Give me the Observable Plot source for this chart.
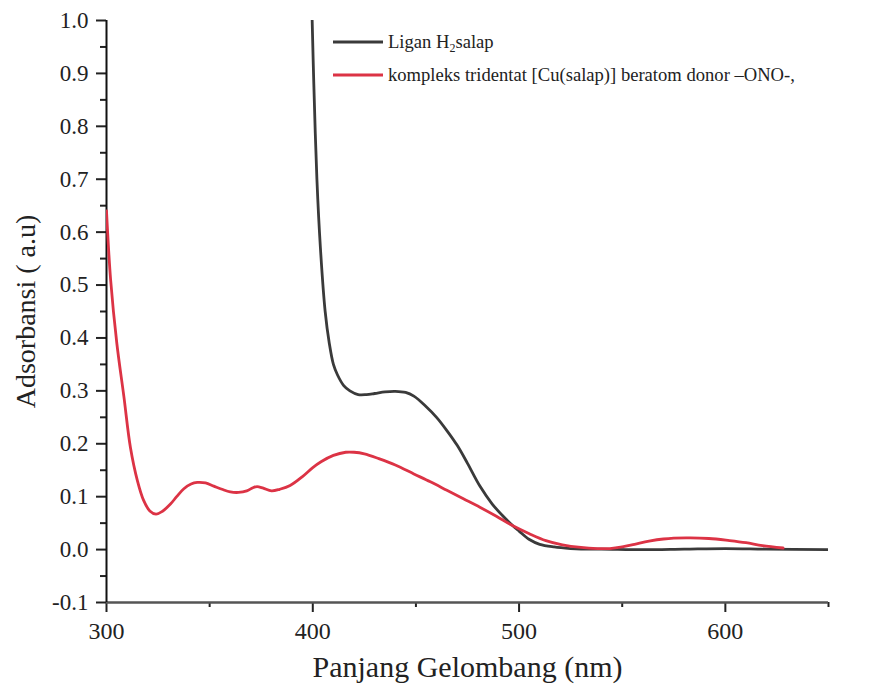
<!DOCTYPE html>
<html>
<head>
<meta charset="utf-8">
<script src="https://cdn.jsdelivr.net/npm/d3@7"></script>
<script src="https://cdn.jsdelivr.net/npm/@observablehq/plot@0.6"></script>
<style>
  html, body { margin: 0; padding: 0; background: #fff; }
  #chart svg, #chart svg text { font-family: 'Liberation Serif', 'Times New Roman', serif !important; }
</style>
</head>
<body>
<div id="chart"></div>
<script>
// ---- Data ----
const seriesNames = ["Ligan H2salap", "kompleks tridentat [Cu(salap)] beratom donor –ONO-,"];

const ligandNm  = [399.7, 400.5, 402, 403.7, 406, 408, 410, 412, 415, 418, 422, 426, 430, 435, 440, 445, 449, 455, 460, 465, 470, 475, 481, 487, 493, 497, 500, 505, 510, 517, 525, 530, 540, 560, 580, 600, 620, 650];
const ligandAbs = [1.0, 0.88, 0.70, 0.57, 0.45, 0.39, 0.35, 0.33, 0.31, 0.30, 0.293, 0.293, 0.295, 0.298, 0.299, 0.297, 0.290, 0.270, 0.250, 0.225, 0.197, 0.163, 0.120, 0.086, 0.060, 0.045, 0.035, 0.019, 0.010, 0.005, 0.002, 0.001, 0.001, 0.0, 0.001, 0.002, 0.001, 0.0];

const complexNm  = [300, 302, 305, 308.4, 311.6, 315, 318, 321, 324, 327, 331, 334, 337.5, 341, 344, 348, 352, 356, 360, 364, 368, 371, 373, 376, 380, 384, 389, 395, 400, 404, 410, 416, 420, 425, 432, 440, 449, 457, 465, 473, 481, 489, 497, 505, 513, 521, 530, 538, 544, 550, 556, 563, 570, 581, 592, 602, 610, 618, 628];
const complexAbs = [0.64, 0.51, 0.39, 0.29, 0.193, 0.13, 0.093, 0.073, 0.067, 0.072, 0.086, 0.100, 0.115, 0.124, 0.127, 0.126, 0.120, 0.114, 0.109, 0.108, 0.111, 0.117, 0.119, 0.116, 0.111, 0.114, 0.121, 0.138, 0.155, 0.166, 0.178, 0.184, 0.184, 0.181, 0.172, 0.160, 0.143, 0.128, 0.112, 0.096, 0.080, 0.063, 0.045, 0.030, 0.017, 0.009, 0.004, 0.002, 0.002, 0.005, 0.010, 0.016, 0.020, 0.022, 0.021, 0.017, 0.013, 0.0075, 0.003];

const xTicks = [300, 400, 500, 600];
const xMinorTicks = [350, 450, 550, 650];
const yTicks = [-0.1, 0.0, 0.1, 0.2, 0.3, 0.4, 0.5, 0.6, 0.7, 0.8, 0.9, 1.0];
const yMinorTicks = [-0.05, 0.05, 0.15, 0.25, 0.35, 0.45, 0.55, 0.65, 0.75, 0.85, 0.95];

const xLabel = "Panjang Gelombang (nm)";
const yLabel = "Adsorbansi ( a.u)";

// ---- Build tables ----
const ligand = ligandNm.map((x, i) => ({nm: x, abs: ligandAbs[i]}));
const complex = complexNm.map((x, i) => ({nm: x, abs: complexAbs[i]}));

const colors = ["#3a3a3a", "#dc3345"];
const font = "'Liberation Serif', 'Times New Roman', serif";

const chart = Plot.plot({
  width: 871,
  height: 696,
  marginLeft: 106,
  marginRight: 43,
  marginTop: 20,
  marginBottom: 94,
  x: {domain: [300, 650]},
  y: {domain: [-0.1, 1.0]},
  style: {fontFamily: font, color: "#222", background: "#fff", overflow: "visible"},
  marks: [
    Plot.axisY({ticks: yTicks, tickSize: 10, tickPadding: 8, strokeWidth: 2, fontSize: 23, fontFamily: font,
                tickFormat: d => d.toFixed(1), label: null}),
    Plot.axisY({ticks: yMinorTicks, tickSize: 6, strokeWidth: 2, tickFormat: () => "", label: null}),
    Plot.axisX({ticks: xTicks, tickSize: 10, tickPadding: 9, strokeWidth: 2, fontSize: 24, fontFamily: font,
                tickFormat: d => String(d), label: null}),
    Plot.axisX({ticks: xMinorTicks, tickSize: 5, strokeWidth: 2, tickFormat: () => "", label: null}),
    Plot.ruleY([-0.1], {stroke: "#555", strokeWidth: 2.5}),
    Plot.ruleX([300], {stroke: "#111", strokeWidth: 2}),
    Plot.line(ligand, {x: "nm", y: "abs", stroke: colors[0], strokeWidth: 2.8, curve: "catmull-rom", clip: true}),
    Plot.line(complex, {x: "nm", y: "abs", stroke: colors[1], strokeWidth: 2.8, curve: "catmull-rom", clip: true}),
    Plot.text([yLabel], {frameAnchor: "left", text: d => d, rotate: -90, dx: -80, fontSize: 28, fontFamily: font,
                         lineAnchor: "middle", textAnchor: "middle", fill: "#222"}),
    Plot.text([xLabel], {frameAnchor: "bottom", text: d => d, dy: 65, fontSize: 30, fontFamily: font,
                         lineAnchor: "middle", textAnchor: "middle", fill: "#222"})
  ]
});

document.getElementById("chart").appendChild(chart);

// ---- Legend (inside the plot, top) ----
const svg = d3.select(chart);
const leg = svg.append("g").attr("font-family", font).attr("font-size", 18.6)
  .attr("fill", "#222").attr("text-anchor", "start");
const legRows = [{y: 42, color: colors[0]}, {y: 75, color: colors[1]}];
legRows.forEach(r => {
  leg.append("line").attr("x1", 333).attr("x2", 383).attr("y1", r.y).attr("y2", r.y)
     .attr("stroke", r.color).attr("stroke-width", 3);
});
const t0 = leg.append("text").attr("x", 388).attr("y", legRows[0].y).attr("dy", "0.32em");
t0.append("tspan").text("Ligan H");
t0.append("tspan").attr("font-size", 12).attr("dy", "4").text("2");
t0.append("tspan").attr("dy", "-4").text("salap");
leg.append("text").attr("x", 388).attr("y", legRows[1].y).attr("dy", "0.32em").text(seriesNames[1]);
</script>
</body>
</html>
